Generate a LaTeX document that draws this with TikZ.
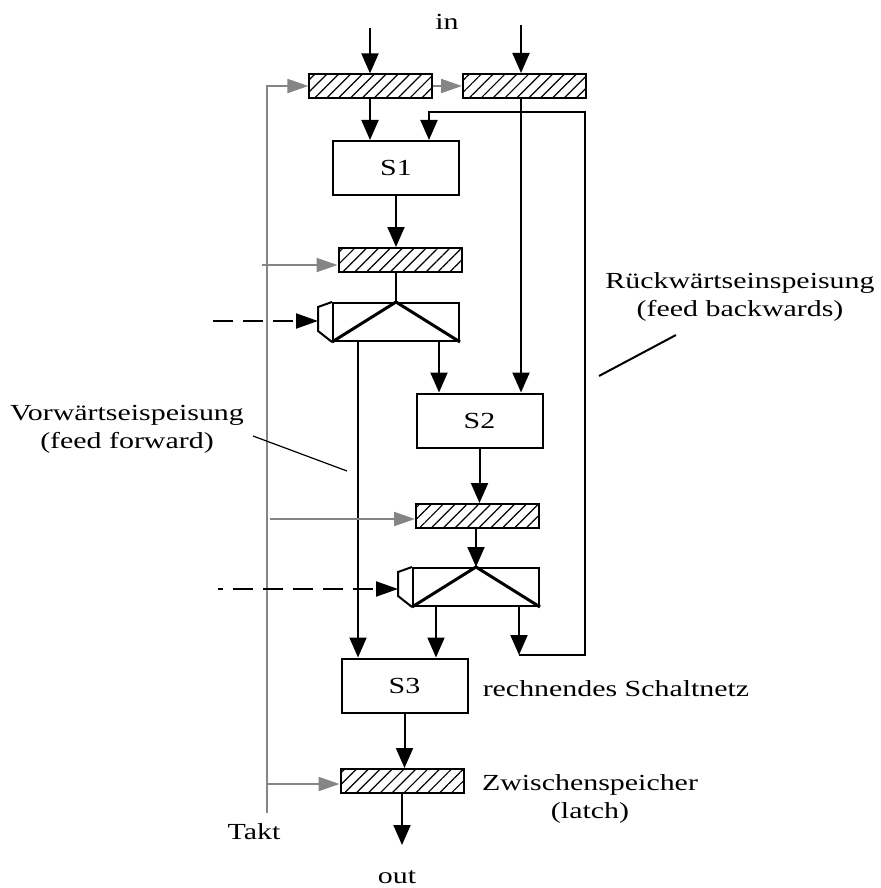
\documentclass[tikz,border=0pt]{standalone}
\usepackage{fontspec}
\setmainfont{Liberation Serif}[FakeStretch=1.3]
\usetikzlibrary{arrows.meta,patterns.meta}

\begin{document}
\begin{tikzpicture}[
    x=0.5pt, y=-0.5pt,
    font=\fontsize{11.5}{14}\selectfont,
    latch/.style={draw, line width=1pt, minimum width=61.5pt, minimum height=12pt,
                  inner sep=0pt, pattern={Lines[angle=45,distance=4.2pt,line width=0.6pt]}},
    stage/.style={draw, line width=1pt, minimum width=63pt, minimum height=27pt,
                  inner sep=0pt},
    demux/.style={draw, line width=1pt, minimum width=63pt, minimum height=19pt,
                  inner sep=0pt},
    conn/.style={draw, line width=1pt, -{Triangle[length=10pt,width=8.5pt]}},
    clk/.style={draw=black!48, line width=1pt, -{Triangle[length=10.5pt,width=7pt]}},
    sel/.style={draw, line width=1pt, -{Triangle[length=11pt,width=7.5pt]},
                dash pattern=on 10pt off 5pt, shorten >=7pt},
    lead/.style={draw, line width=0.6pt},
    lbl/.style={align=center, inner sep=0pt}
]
    \useasboundingbox (0,0) rectangle (881,888);

    % pipeline stages
    \node[latch] (lin1) at (370.5,86) {};
    \node[latch] (lin2) at (524.5,86) {};
    \node[stage] (s1) at (396,168) {S1};
    \node[latch] (lat2) at (400,260) {};
    \node[demux] (dm1) at (396,322) {};
    \node[stage] (s2) at (479.5,420.5) {S2};
    \node[latch] (lat3) at (477.5,516) {};
    \node[demux] (dm2) at (476,587) {};
    \node[stage] (s3) at (404.5,685.5) {S3};
    \node[latch] (lout) at (402,781) {};

    \foreach \d in {dm1,dm2} {
        \draw[line width=1.5pt] (\d.south west) -- (\d.north) -- (\d.south east);
        \draw[line width=1pt] (\d.north west) -- ++(-14,5) -- ++(0,24) -- (\d.south west);
    }

    % data paths
    \coordinate (in1) at (370,28);
    \coordinate (in2) at (521,25);
    \coordinate (ff) at (358,0);
    \coordinate (o1) at (439,0);
    \coordinate (o2) at (436,0);
    \coordinate (fb) at (519,655);
    \coordinate (fbtop) at (585,112);
    \coordinate (fbin) at (429,112);
    \coordinate (outp) at (402,845);

    \draw[conn] (in1) -- (in1 |- lin1.north);
    \draw[conn] (in2) -- (in2 |- lin2.north);
    \draw[conn] (in1 |- lin1.south) -- (in1 |- s1.north);
    \draw[conn] (s1.south) -- (s1.south |- lat2.north);
    \draw[line width=1pt] (dm1.north |- lat2.south) -- (dm1.north);
    \draw[conn] (ff |- dm1.south) -- (ff |- s3.north);
    \draw[conn] (o1 |- dm1.south) -- (o1 |- s2.north);
    \draw[conn] (in2 |- lin2.south) -- (in2 |- s2.north);
    \draw[conn] (s2.south) -- (s2.south |- lat3.north);
    \draw[conn] (dm2.north |- lat3.south) -- (dm2.north);
    \draw[conn] (o2 |- dm2.south) -- (o2 |- s3.north);
    \draw[conn] (fb |- dm2.south) -- (fb);
    \draw[conn] (fb) -| (fbtop) -- (fbin) -- (fbin |- s1.north);
    \draw[conn] (s3.south) -- (s3.south |- lout.north);
    \draw[conn] (lout.south) -- (outp);

    % clock
    \coordinate (tk) at (267,813);
    \coordinate (t2) at (262,265);
    \coordinate (t3) at (270,519);
    \coordinate (t4) at (267,784);
    \draw[clk] (tk) |- (lin1.west);
    \draw[clk] (lin1.east) -- (lin2.west);
    \foreach \t/\l in {t2/lat2,t3/lat3,t4/lout}
        \draw[clk] (\t) -- (\t -| \l.west);

    % select inputs
    \coordinate (sel1) at (213,321);
    \coordinate (sel2) at (218,589);
    \draw[sel] (sel1) -- (sel1 -| dm1.west);
    \draw[sel, dash phase=7.5pt] (sel2) -- (sel2 -| dm2.west);

    % labels
    \coordinate (bw1) at (599,376);
    \coordinate (bw2) at (676,335);
    \coordinate (fw1) at (253,436);
    \coordinate (fw2) at (347,471);
    \draw[line width=1pt] (bw1) -- (bw2);
    \draw[lead] (fw1) -- (fw2);

    \node[lbl] (inl) at (447,22) {in};
    \node[lbl] (outl) at (397,877) {out};
    \node[lbl] (takt) at (254,832) {Takt};
    \node[lbl] (bwl) at (740,297) {Rückwärtseinspeisung\\(feed backwards)};
    \node[lbl] (fwl) at (127,429) {Vorwärtseispeisung\\(feed forward)};
    \node[lbl] (rsl) at (616,689) {rechnendes Schaltnetz};
    \node[lbl] (zwl) at (590,799) {Zwischenspeicher\\(latch)};

\end{tikzpicture}
\end{document}
